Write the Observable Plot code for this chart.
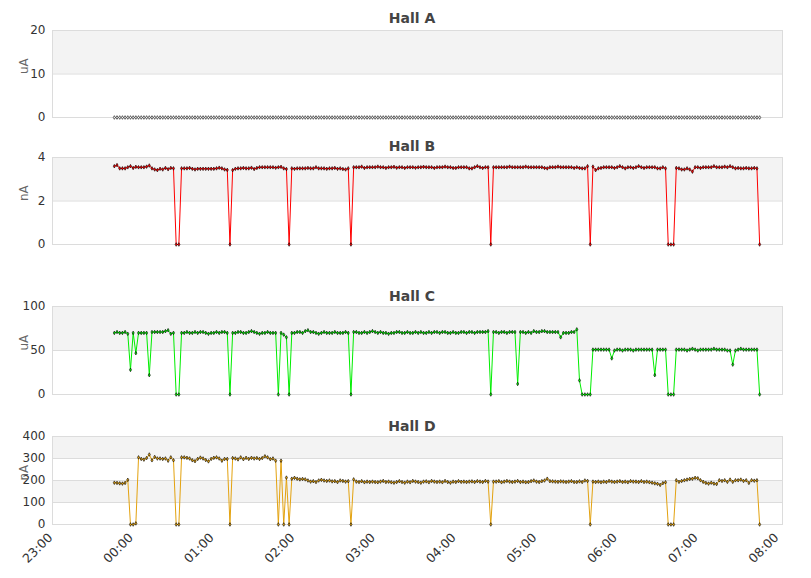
<!DOCTYPE html>
<html><head><meta charset="utf-8">
<script src="https://cdn.jsdelivr.net/npm/d3@7"></script>
<script src="https://cdn.jsdelivr.net/npm/@observablehq/plot@0.6"></script>
<style>
body{margin:0;background:#fff;}
#wrap{position:relative;width:811px;height:578px;overflow:hidden;}
.title{position:absolute;left:0;width:824px;text-align:center;font:bold 14px "DejaVu Sans",sans-serif;color:#444;line-height:16px;}
.panel{position:absolute;left:0;}
.panel svg{overflow:visible;}
</style></head><body><div id="wrap"></div>
<script>
// sampling grid: one reading every 2 minutes starting 23:46
const startTime = "2020-01-01T23:46:00Z";
const stepMinutes = 2;

const hallA = [
0,0,0,0,0,0,0,0,0,0, 0,0,0,0,0,0,0,0,0,0, 0,0,0,0,0,0,0,0,0,0, 0,0,0,0,0,0,0,0,0,0,
0,0,0,0,0,0,0,0,0,0, 0,0,0,0,0,0,0,0,0,0, 0,0,0,0,0,0,0,0,0,0, 0,0,0,0,0,0,0,0,0,0,
0,0,0,0,0,0,0,0,0,0, 0,0,0,0,0,0,0,0,0,0, 0,0,0,0,0,0,0,0,0,0, 0,0,0,0,0,0,0,0,0,0,
0,0,0,0,0,0,0,0,0,0, 0,0,0,0,0,0,0,0,0,0, 0,0,0,0,0,0,0,0,0,0, 0,0,0,0,0,0,0,0,0,0,
0,0,0,0,0,0,0,0,0,0, 0,0,0,0,0,0,0,0,0,0, 0,0,0,0,0,0,0,0,0,0, 0,0,0,0,0,0,0,0,0,0,
0,0,0,0,0,0,0,0,0,0, 0,0,0,0,0,0,0,0,0,0, 0,0,0,0,0,0,0,0,0,0, 0,0,0,0,0,0,0,0,0,0,
0
];

const hallB = [
3.6,3.65,3.5,3.5,3.5,3.55,3.6,3.52,3.57,3.55,
3.55,3.55,3.58,3.63,3.5,3.45,3.42,3.48,3.45,3.52,
3.46,3.52,3.5,0,0,3.5,3.5,3.5,3.52,3.48,
3.45,3.48,3.48,3.48,3.48,3.48,3.48,3.48,3.5,3.53,
3.5,3.45,3.43,0,3.42,3.48,3.5,3.5,3.52,3.5,
3.5,3.53,3.47,3.52,3.55,3.55,3.55,3.55,3.55,3.55,
3.53,3.55,3.57,3.5,3.47,0,3.5,3.48,3.5,3.5,
3.5,3.5,3.52,3.5,3.5,3.55,3.5,3.5,3.5,3.48,
3.5,3.5,3.52,3.48,3.5,3.47,3.45,3.5,0,3.55,
3.55,3.55,3.58,3.52,3.55,3.55,3.55,3.55,3.58,3.55,
3.55,3.52,3.55,3.55,3.57,3.53,3.55,3.55,3.52,3.55,
3.55,3.55,3.53,3.55,3.55,3.57,3.55,3.55,3.55,3.52,
3.55,3.55,3.55,3.58,3.55,3.55,3.52,3.52,3.55,3.55,
3.55,3.55,3.5,3.5,3.55,3.6,3.55,3.52,3.55,3.55,
0,3.55,3.55,3.55,3.55,3.55,3.55,3.58,3.55,3.55,
3.55,3.55,3.55,3.58,3.55,3.55,3.55,3.55,3.55,3.55,
3.52,3.5,3.55,3.55,3.55,3.58,3.55,3.55,3.55,3.55,
3.55,3.52,3.55,3.52,3.5,3.5,3.6,0,3.58,3.42,
3.5,3.52,3.55,3.55,3.55,3.55,3.52,3.55,3.6,3.55,
3.5,3.55,3.55,3.52,3.55,3.6,3.55,3.52,3.55,3.55,
3.55,3.55,3.5,3.5,3.55,3.5,0,0,0,3.52,
3.5,3.45,3.45,3.5,3.45,3.35,3.55,3.55,3.52,3.55,
3.55,3.55,3.55,3.6,3.55,3.55,3.55,3.58,3.55,3.6,
3.55,3.5,3.52,3.5,3.5,3.52,3.5,3.5,3.52,3.5,
0
];

const hallC = [
70,71,70,70,71,69,28,70,47,70,
70,70,70,22,71,71,71,71,71,72,
73,69,70,0,0,70,70,71,70,70,
71,70,71,71,70,69,70,70,71,70,
71,71,70,0,70,70,71,71,70,70,
71,72,71,70,69,70,70,71,70,70,
70,0,70,68,65,0,70,70,71,71,
70,72,73,71,71,70,69,70,71,70,
70,70,71,70,70,70,71,70,0,71,
71,70,70,71,70,71,72,71,70,71,
70,70,69,70,70,71,71,70,70,71,
70,70,71,70,71,70,70,71,70,71,
71,70,71,71,70,70,71,70,70,71,
71,70,71,71,70,71,71,71,71,72,
0,71,71,70,71,71,70,71,71,71,
12,71,71,70,71,70,72,71,71,72,
72,71,71,71,71,71,65,70,70,70,
71,71,74,16,0,0,0,0,51,51,
51,51,51,51,51,41,50,51,51,50,
51,51,51,50,51,51,51,51,51,51,
51,22,51,51,51,51,0,0,0,51,
51,51,51,50,51,52,51,50,51,51,
51,51,51,52,51,51,51,51,50,50,
34,50,51,52,51,51,51,51,51,51,
0
];

const hallD = [
190,189,187,186,189,203,0,0,5,305,
298,295,302,318,292,307,300,300,298,300,
290,305,292,0,0,305,305,303,300,292,
288,298,304,300,293,287,298,303,305,300,
290,298,298,0,302,300,296,305,297,303,
298,303,300,302,298,302,310,305,297,300,
290,0,290,0,213,0,208,212,208,205,
207,205,200,195,197,193,200,203,200,198,
200,196,197,193,200,198,195,197,0,205,
195,193,197,192,195,193,195,193,192,195,
198,193,195,192,190,193,197,193,190,195,
192,198,195,193,190,195,196,192,198,195,
193,195,192,198,193,190,195,193,197,194,
195,193,195,196,193,197,195,193,198,195,
0,195,195,197,192,195,198,195,193,195,
198,193,195,192,193,197,200,195,193,197,
200,208,197,196,195,194,196,195,193,195,
197,193,193,196,193,200,198,0,195,193,
195,192,195,193,198,195,193,195,197,193,
195,192,197,195,195,193,197,193,195,192,
190,187,185,180,188,192,0,0,0,201,
194,198,201,204,207,208,212,210,201,194,
189,186,190,186,184,201,198,201,194,204,
194,201,201,204,198,201,189,201,199,201,
0
];

const hallNames = ["Hall A", "Hall B", "Hall C", "Hall D"];
const units = ["uA", "nA", "uA", "nA"];
const yTicksA = [0, 10, 20];
const yTicksB = [0, 2, 4];
const yTicksC = [0, 50, 100];
const yTicksD = [0, 100, 200, 300, 400];
const tickLabels = ["23:00","00:00","01:00","02:00","03:00","04:00","05:00","06:00","07:00","08:00"];

const colors = ["none", "#ff0000", "#00ee00", "#e3a20f"];
const dotFills = ["#ffffff", "#ff0000", "#00ee00", "#e3a20f"];

// time helpers
const t0 = new Date(startTime);
const toRows = vals => vals.map((v, i) => ({t: new Date(t0.getTime() + i * stepMinutes * 60000), v}));
const tickDates = tickLabels.map((s, i) => {
  const [h, m] = s.split(":").map(Number);
  return new Date(Date.UTC(2020, 0, i === 0 ? 1 : 2, h, m));
});
const xDomain = [tickDates[0], new Date(Date.UTC(2020, 0, 2, 8, 3))];

const layout = [
  {top: 30, h: 87, titleTop: 10},
  {top: 157, h: 87, titleTop: 138},
  {top: 306, h: 88, titleTop: 288},
  {top: 436, h: 88, titleTop: 418}
];
const series = [hallA, hallB, hallC, hallD];
const yTicks = [yTicksA, yTicksB, yTicksC, yTicksD];

const wrap = document.getElementById("wrap");
series.forEach((vals, k) => {
  const rows = toRows(vals);
  const ticks = yTicks[k];
  const n = ticks.length - 1;
  const bands = [];
  for (let j = n; j >= 1; j -= 2) bands.push({y1: ticks[j - 1], y2: ticks[j]});
  const isLast = k === 3;
  const mt = 8, mb = isLast ? 55 : 8;
  const marks = [
    Plot.rectY(bands, {x1: xDomain[0], x2: xDomain[1], y1: "y1", y2: "y2", fill: "#f3f3f3"}),
    Plot.ruleY(ticks, {stroke: "#dcdcdc"}),
    Plot.frame({stroke: "#dcdcdc"}),
    Plot.axisY({ticks, tickFormat: d => String(d), tickSize: 0, tickPadding: 7, label: null, fontSize: 12, fill: "#333"}),
    Plot.text([units[k]], {frameAnchor: "left", dx: -28, rotate: -90, fill: "#666", fontSize: 12, fontFamily: "DejaVu Sans"}),
  ];
  if (colors[k] !== "none") marks.push(Plot.line(rows, {x: "t", y: "v", stroke: colors[k], strokeWidth: 1}));
  marks.push(Plot.dot(rows, {x: "t", y: "v", symbol: "diamond", r: 1.1, fill: dotFills[k], stroke: "#000", strokeWidth: 0.6}));
  if (isLast) {
    marks.push(Plot.axisX({ticks: tickDates, tickFormat: d3.utcFormat("%H:%M"), tickSize: 0, tickPadding: 11, dx: -2, tickRotate: -45, label: null, fontSize: 12.5, fill: "#333"}));
  }
  const chart = Plot.plot({
    width: 811,
    height: mt + layout[k].h + mb,
    marginTop: mt, marginBottom: mb, marginLeft: 52, marginRight: 29,
    style: {fontFamily: "DejaVu Sans", fontSize: "12px", color: "#333", background: "transparent"},
    x: {type: "utc", domain: xDomain, axis: null},
    y: {domain: [ticks[0], ticks[n]], axis: null},
    marks
  });
  const div = document.createElement("div");
  div.className = "panel";
  div.style.top = (layout[k].top - mt) + "px";
  div.appendChild(chart);
  wrap.appendChild(div);
  const title = document.createElement("div");
  title.className = "title";
  title.style.top = layout[k].titleTop + "px";
  title.textContent = hallNames[k];
  wrap.appendChild(title);
});
</script></body></html>
